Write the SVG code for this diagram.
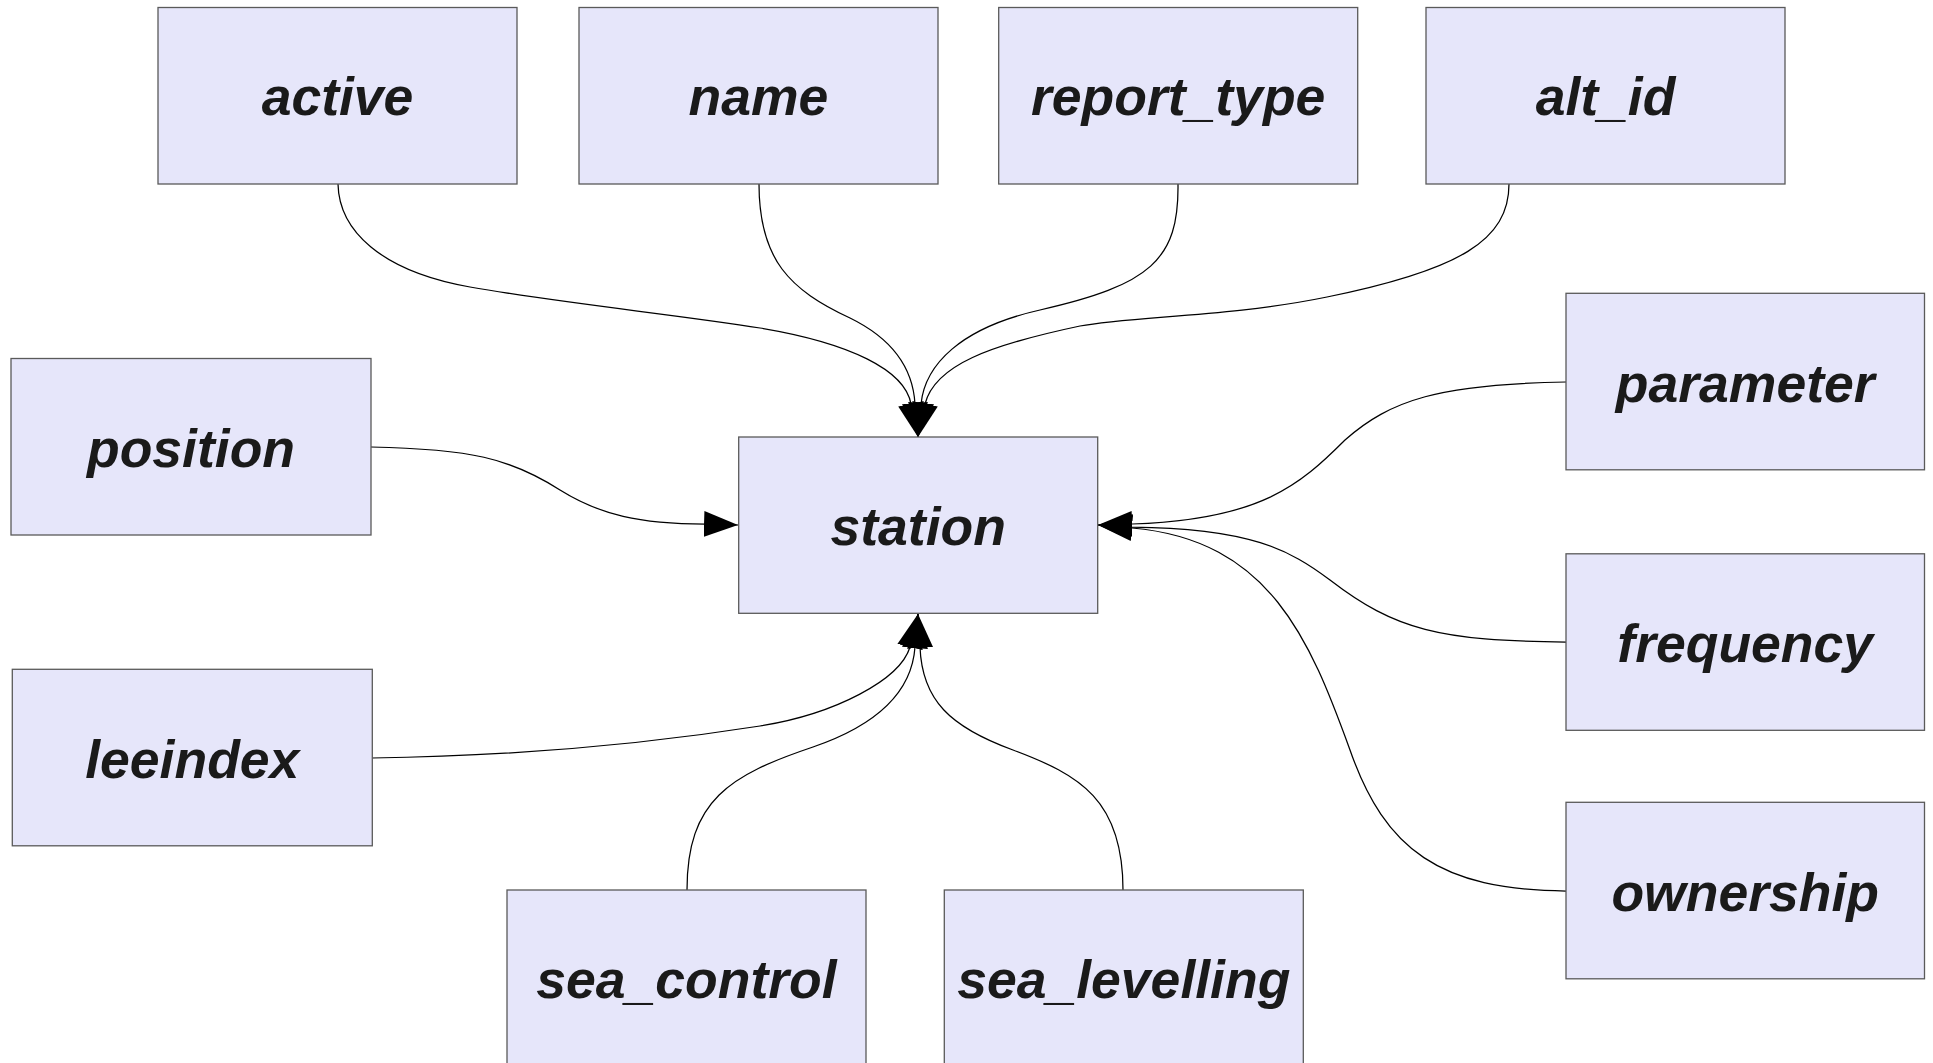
<svg xmlns="http://www.w3.org/2000/svg" width="1933" height="1063" viewBox="0 0 1933 1063">
  <defs>
    <style>
      .node rect { fill: #e6e6fa; stroke: #5a5a5a; stroke-width: 1.3; }
      .node text { font-family: "Liberation Sans", Arial, sans-serif; font-size: 53.5px; font-weight: bold; font-style: italic; fill: #1a1a1a; text-anchor: middle; }
      .edge { fill: none; stroke: #000; stroke-width: 1.25; marker-end: url(#arrow); }
    </style>
    <marker id="arrow" markerUnits="userSpaceOnUse" markerWidth="34" markerHeight="26" viewBox="0 0 34 26" refX="34" refY="13" orient="auto">
      <path d="M0,0 L34,13 L0,26 Z" fill="#000"/>
    </marker>
  </defs>
  <rect width="1933" height="1063" fill="#fff"/>

  <!-- connectors: every attribute points at station -->
  <g id="edges">
    <path id="e-active" class="edge" d="M338,184 C339,230 380,271 470,287 C560,303 680,315 760,328 C850,343 905,370 911,404 L918,437"/>
    <path id="e-name" class="edge" d="M759,184 C759,260 790,290 850,318 C895,340 913,370 915,404 L918,437"/>
    <path id="e-report_type" class="edge" d="M1178,184 C1179,260 1150,285 1040,310 C960,328 925,365 921,404 L918,437"/>
    <path id="e-alt_id" class="edge" d="M1509,184 C1509,240 1460,270 1327,297 C1230,317 1130,316 1080,326 C990,345 935,365 925,404 L918,437"/>
    <path id="e-position" class="edge" d="M371,447 C470,449 510,458 560,490 C600,515 640,524 705,524 L738,525"/>
    <path id="e-parameter" class="edge" d="M1566,382 C1440,384 1390,400 1345,440 C1300,485 1260,520 1132,524 L1098,525"/>
    <path id="e-frequency" class="edge" d="M1566,642 C1440,641 1395,630 1330,580 C1290,550 1250,528 1132,527 L1098,525"/>
    <path id="e-ownership" class="edge" d="M1566,891 C1440,890 1385,850 1350,750 C1310,640 1270,540 1132,528 L1098,525"/>
    <path id="e-leeindex" class="edge" d="M372,758 C520,756 640,745 760,726 C835,714 900,680 910,647 L918,614"/>
    <path id="e-sea_control" class="edge" d="M687,890 C687,800 730,775 813,747 C880,724 912,690 915,647 L918,614"/>
    <path id="e-sea_levelling" class="edge" d="M1123,890 C1123,800 1080,775 1013,750 C950,727 922,700 920,647 L918,614"/>
  </g>

  <g id="active" class="node"><rect x="158" y="7.5" width="359" height="176.5"/><text x="337.5" y="115">active</text></g>
  <g id="name" class="node"><rect x="579" y="7.5" width="359" height="176.5"/><text x="758.5" y="115">name</text></g>
  <g id="report_type" class="node"><rect x="998.7" y="7.5" width="359" height="176.5"/><text x="1178.2" y="115">report_type</text></g>
  <g id="alt_id" class="node"><rect x="1426" y="7.5" width="359" height="176.5"/><text x="1605.5" y="115">alt_id</text></g>

  <g id="position" class="node"><rect x="11" y="358.5" width="360" height="176.5"/><text x="191" y="466.5">position</text></g>
  <g id="station" class="node"><rect x="738.7" y="437" width="359" height="176.3"/><text x="918.2" y="545">station</text></g>
  <g id="parameter" class="node"><rect x="1566" y="293.3" width="358.5" height="176.5"/><text x="1745.2" y="401.5">parameter</text></g>

  <g id="leeindex" class="node"><rect x="12.3" y="669.3" width="360" height="176.5"/><text x="192.3" y="777.5">leeindex</text></g>
  <g id="frequency" class="node"><rect x="1566" y="553.8" width="358.5" height="176.5"/><text x="1745.2" y="662">frequency</text></g>
  <g id="ownership" class="node"><rect x="1566" y="802.3" width="358.5" height="176.5"/><text x="1745.2" y="910.5">ownership</text></g>

  <g id="sea_control" class="node"><rect x="507" y="890" width="359" height="176.5"/><text x="686.5" y="998">sea_control</text></g>
  <g id="sea_levelling" class="node"><rect x="944.3" y="890" width="359" height="176.5"/><text x="1123.8" y="998">sea_levelling</text></g>
</svg>
